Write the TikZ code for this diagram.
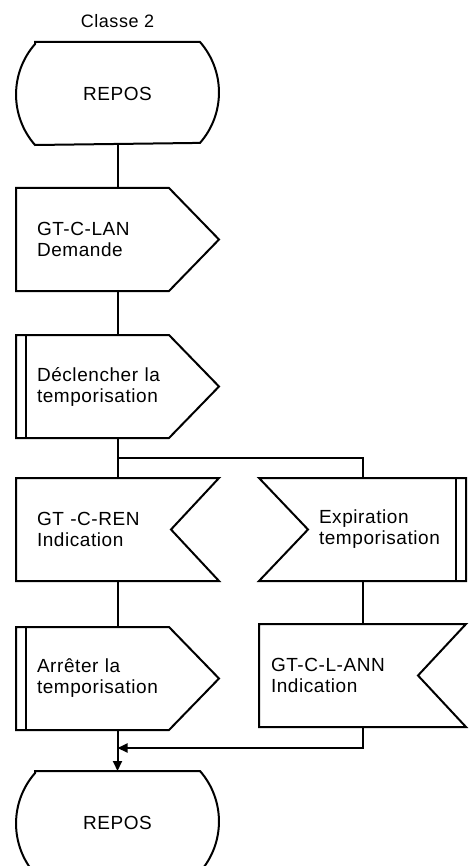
\documentclass[tikz,border=0pt]{standalone}
\usepackage{fontspec}
\setmainfont{Liberation Sans}[LetterSpace=3]
\usepackage{tikz}
\usetikzlibrary{positioning}
\usetikzlibrary{arrows.meta}

% outlines drawn round the named nodes
\newcommand{\formerepos}[1]{%
  \draw ([xshift=19pt]#1.north west) -- ([xshift=-19pt]#1.north east)
    arc[start angle=41.2, end angle=-41.2, radius=76.6pt]
    -- ([xshift=19pt]#1.south west)
    arc[start angle=221.2, end angle=138.8, radius=76.6pt] -- cycle;}
\newcommand{\formesortie}[1]{%
  \draw (#1.north west) -- ([xshift=-50pt]#1.north east) -- (#1.east)
    -- ([xshift=-50pt]#1.south east) -- (#1.south west) -- cycle;}
\newcommand{\formetempo}[1]{%
  \formesortie{#1}
  \draw ([xshift=10pt]#1.north west) -- ([xshift=10pt]#1.south west);}
\newcommand{\formeentree}[1]{%
  \draw (#1.north west) -- (#1.north east) -- ([xshift=-48pt]#1.east)
    -- (#1.south east) -- (#1.south west) -- cycle;}
\newcommand{\formeexpiration}[1]{%
  \draw (#1.north west) -- (#1.north east) -- (#1.south east)
    -- (#1.south west) -- ([xshift=49pt]#1.west) -- cycle;
  \draw ([xshift=-10pt]#1.north east) -- ([xshift=-10pt]#1.south east);}

\begin{document}
\begin{tikzpicture}[x=1pt, y=-1pt, line width=2pt, node distance=43pt,
    boite/.style = {rectangle, minimum width=201pt, minimum height=101pt,
      inner sep=0pt, text width=161pt, align=left,
      font=\fontsize{19}{21}\selectfont},
    droite/.style = {boite, minimum width=205pt},
    repos/.style = {boite, align=center},
    titre/.style = {font=\fontsize{18}{20}\selectfont},
    fleche/.style = {-{Triangle[length=10pt,width=9pt]}}]
            \useasboundingbox (0,0) rectangle (468,866);
            % Nodes
            \node[repos] (repos1) at (117.5,93.5) {REPOS};
            \node[titre] (classe) [above=10pt of repos1] {Classe 2};
            \node[boite] (lan) [below=of repos1] {GT-C-LAN\\Demande};
            \node[boite] (decl) [below=44pt of lan] {Déclencher la\\temporisation};
            \node[boite] (ren) [below=40pt of decl] {GT -C-REN\\Indication};
            \node[droite, text width=87pt] (expi) [right=40pt of ren] {Expiration\\\mbox{temporisation}};
            \node[boite] (arret) [below=46pt of ren] {Arrêter la\\temporisation};
            \node[droite, text width=183pt] (ann) [below=of expi] {GT-C-L-ANN\\Indication};
            \node[repos] (repos2) [below=41pt of arret] {REPOS};
            \coordinate[below=20pt of decl] (branche);
            \coordinate[below=18pt of arret] (fusion);
            % Shapes
            \formerepos{repos1}
            \formesortie{lan}
            \formetempo{decl}
            \formeentree{ren}
            \formeexpiration{expi}
            \formetempo{arret}
            \formeentree{ann}
            \formerepos{repos2}
            % Edges
            \draw (repos1) -- (lan);
            \draw (lan) -- (decl);
            \draw (decl) -- (ren);
            \draw (branche) -| (expi);
            \draw (ren) -- (arret);
            \draw (expi) -- (ann);
            \draw[fleche] (arret) -- (repos2);
            \draw[fleche] (ann) |- (fusion);
            \end{tikzpicture}
\end{document}
